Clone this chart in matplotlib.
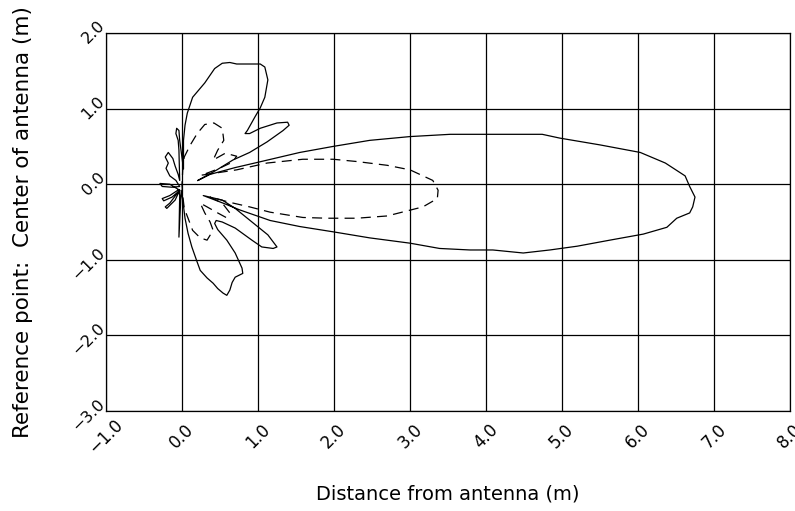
import matplotlib
matplotlib.use("Agg")
import matplotlib.pyplot as plt
from matplotlib.transforms import ScaledTranslation

# field pattern outlines (metres)
# solid contour: main lobe, lower lobes, back fan, upper lobes
solid_x = [0.21, 0.37, 0.70, 1.00, 1.55, 1.99, 2.47, 3.00, 3.53, 4.18, 4.74, 4.97,
           5.50, 6.03, 6.36, 6.62, 6.68, 6.75, 6.72, 6.68, 6.51, 6.38, 6.07, 5.63,
           5.20, 4.84, 4.49, 4.09, 3.79, 3.39, 3.00, 2.47, 1.99, 1.55, 1.16, 0.76,
           0.54, 0.28,
           0.53, 0.70, 0.92, 1.13, 1.25, 1.20, 1.05, 0.92, 0.70, 0.53, 0.45, 0.43,
           0.47, 0.59, 0.70, 0.79, 0.80, 0.70, 0.66, 0.63, 0.59, 0.54, 0.47, 0.41,
           0.33, 0.24, 0.20, 0.13, 0.08, 0.04, 0.01,
           -0.01, -0.04, -0.03,
           -0.04, -0.16, -0.26, -0.24, -0.13, -0.04, -0.16, -0.22, -0.20, -0.09,
           -0.03, -0.16, -0.29, -0.26, -0.13, -0.03, -0.08, -0.16, -0.21, -0.18,
           -0.22, -0.18, -0.12, -0.09, -0.05, -0.03,
           -0.04, -0.05, -0.08, -0.07, -0.04, -0.03, 0.02,
           0.02, 0.04, 0.07, 0.14, 0.30, 0.43, 0.53, 0.63, 0.72, 1.03, 1.09, 1.13,
           1.09, 1.03, 0.96, 0.86, 0.83, 0.89, 1.03, 1.25, 1.39, 1.41, 1.33, 1.12,
           0.89, 0.67, 0.46, 0.21]
solid_y = [0.05, 0.13, 0.22, 0.29, 0.42, 0.50, 0.58, 0.63, 0.66, 0.66, 0.66, 0.61,
           0.52, 0.42, 0.28, 0.11, -0.03, -0.17, -0.30, -0.38, -0.45, -0.57, -0.66, -0.74,
           -0.82, -0.87, -0.91, -0.87, -0.87, -0.85, -0.78, -0.71, -0.63, -0.56, -0.48, -0.34,
           -0.25, -0.15,
           -0.21, -0.32, -0.50, -0.67, -0.83, -0.85, -0.83, -0.74, -0.58, -0.50, -0.48, -0.52,
           -0.60, -0.74, -0.91, -1.11, -1.18, -1.23, -1.30, -1.40, -1.47, -1.44, -1.38, -1.31,
           -1.24, -1.14, -1.03, -0.83, -0.65, -0.45, -0.21,
           -0.08, -0.70, -0.15,
           -0.07, -0.15, -0.19, -0.22, -0.17, -0.09, -0.25, -0.30, -0.32, -0.21,
           -0.08, 0.00, 0.01, -0.03, -0.04, -0.03, 0.05, 0.11, 0.21, 0.28,
           0.36, 0.42, 0.34, 0.24, 0.13, 0.05,
           0.45, 0.58, 0.67, 0.74, 0.71, 0.58, 0.20,
           0.58, 0.78, 0.94, 1.15, 1.34, 1.53, 1.60, 1.61, 1.59, 1.59, 1.55, 1.38,
           1.15, 1.01, 0.89, 0.71, 0.67, 0.67, 0.74, 0.81, 0.82, 0.78, 0.71, 0.56,
           0.42, 0.32, 0.19, 0.05]

# dashed contour: smaller main lobe plus near field
dashed_x = [0.26, 0.72, 1.12, 1.59, 1.99, 2.30, 2.70, 3.00, 3.30, 3.37, 3.36, 3.17,
            2.70, 2.30, 1.91, 1.59, 1.16, 0.89, 0.63, 0.37,
            0.53, 0.63, 0.58, 0.47, 0.33, 0.24, 0.30, 0.37, 0.41, 0.33, 0.24, 0.14,
            0.08, 0.03, 0.01, 0.00, 0.01, 0.03, 0.11, 0.20, 0.30, 0.42, 0.53, 0.55,
            0.47, 0.41, 0.57, 0.72, 0.66, 0.47, 0.26]
dashed_y = [0.12, 0.19, 0.28, 0.33, 0.33, 0.30, 0.25, 0.19, 0.05, -0.08, -0.19, -0.30,
            -0.42, -0.45, -0.45, -0.44, -0.37, -0.30, -0.24, -0.17,
            -0.25, -0.38, -0.44, -0.38, -0.30, -0.25, -0.38, -0.50, -0.61, -0.74, -0.71, -0.61,
            -0.45, -0.32, -0.15, -0.01, 0.19, 0.36, 0.52, 0.67, 0.79, 0.81, 0.74, 0.58,
            0.45, 0.32, 0.41, 0.37, 0.29, 0.20, 0.12]

x_ticks = [-1, 0, 1, 2, 3, 4, 5, 6, 7, 8]
x_labels = ["\u22121.0", "0.0", "1.0", "2.0", "3.0", "4.0", "5.0", "6.0", "7.0", "8.0"]
y_ticks = [-3, -2, -1, 0, 1, 2]
y_labels = ["\u22123.0", "\u22122.0", "\u22121.0", "0.0", "1.0", "2.0"]

plt.rcParams['font.family'] = ['DejaVu Sans']

fig = plt.figure(figsize=(7.95, 5.11), dpi=100)
ax = fig.add_axes([0.1333, 0.1957, 0.8604, 0.7397])

ax.plot(solid_x, solid_y, color='k', lw=0.9)
ax.plot(dashed_x, dashed_y, color='k', lw=0.9, dashes=(8, 5))

ax.set_xlim(-1, 8)
ax.set_ylim(-3, 2)
ax.set_xticks(x_ticks)
ax.set_xticklabels(x_labels, rotation=45, ha='center', va='center', fontsize=12)
ax.set_yticks(y_ticks)
ax.set_yticklabels(y_labels, rotation=45, ha='right', va='center',
                   rotation_mode='anchor', fontsize=11.5)
ax.tick_params(axis='x', length=0, pad=18)
ax.tick_params(axis='y', length=0, pad=4)
# nudge the rotated y labels up a little, as in the original
for lbl in ax.get_yticklabels():
    lbl.set_transform(lbl.get_transform() + ScaledTranslation(1.5 / 72, 7 / 72, fig.dpi_scale_trans))
ax.grid(True, color='k', lw=0.9)
ax.set_axisbelow(True)
for s in ax.spines.values():
    s.set_linewidth(0.9)

ax.set_xlabel("Distance from antenna (m)", fontsize=14, labelpad=20)
ax.set_ylabel("Reference point:  Center of antenna (m)", fontsize=15.5)
ax.yaxis.set_label_coords(-0.107, 0.5)

fig.savefig("out.png", dpi=100)
